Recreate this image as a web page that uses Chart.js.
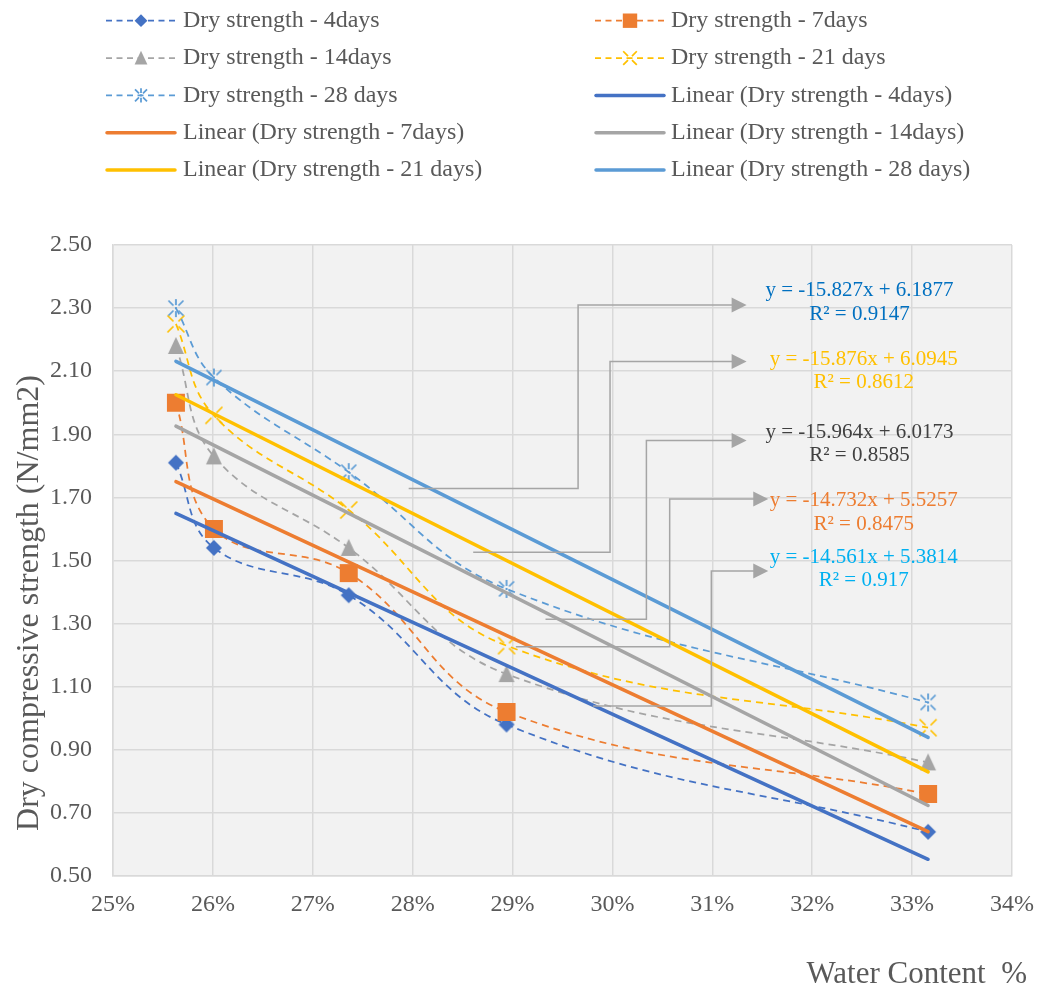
<!DOCTYPE html>
<html>
<head>
<meta charset="utf-8">
<script src="https://cdn.jsdelivr.net/npm/chart.js@4.4.0/dist/chart.umd.min.js"></script>
<style>
html,body{margin:0;padding:0;background:#fff;}
#wrap{width:1038px;height:991px;position:relative;}
</style>
</head>
<body>
<div id="wrap"><canvas id="c" width="1038" height="991"></canvas></div>
<script>
// ---------- data ----------
const waterContent = [0.2563, 0.2601, 0.2736, 0.2894, 0.3316];
const dry4  = [1.81, 1.54, 1.39, 0.98, 0.64];
const dry7  = [2.00, 1.60, 1.46, 1.02, 0.76];
const dry14 = [2.18, 1.83, 1.54, 1.14, 0.86];
const dry21 = [2.25, 1.96, 1.66, 1.23, 0.97];
const dry28 = [2.30, 2.08, 1.78, 1.41, 1.05];
const seriesNames = ['Dry strength - 4days', 'Dry strength - 7days', 'Dry strength - 14days', 'Dry strength - 21 days', 'Dry strength - 28 days'];
const trendSlopes     = [-14.561, -14.732, -15.964, -15.876, -15.827];
const trendIntercepts = [5.3814, 5.5257, 6.0173, 6.0945, 6.1877];
const trendR2         = [0.917, 0.8475, 0.8585, 0.8612, 0.9147];
const xAxisTitle = 'Water Content  %';
const yAxisTitle = 'Dry compressive strength (N/mm2)';

// ---------- styles ----------
const FONT = "'Liberation Serif', 'Times New Roman', serif";
const TEXT = '#595959';
const seriesColors = ['#4472C4', '#ED7D31', '#A5A5A5', '#FFC000', '#5B9BD5'];
const markerTypes = ['diamond', 'square', 'triangle', 'x', 'asterisk'];
const allSeries = [dry4, dry7, dry14, dry21, dry28];

function drawMarker(g, type, x, y, s, color) {
  g.save();
  g.fillStyle = color; g.strokeStyle = color; g.lineWidth = 1.75; g.lineCap = 'butt';
  g.beginPath();
  if (type === 'diamond') {
    const r = 8 * s;
    g.moveTo(x, y - r); g.lineTo(x + r, y); g.lineTo(x, y + r); g.lineTo(x - r, y); g.closePath(); g.fill();
  } else if (type === 'square') {
    const h = 9 * s;
    g.rect(x - h, y - h, 2 * h, 2 * h); g.fill();
  } else if (type === 'triangle') {
    g.moveTo(x, y - 9 * s); g.lineTo(x + 8 * s, y + 8 * s); g.lineTo(x - 8 * s, y + 8 * s); g.closePath(); g.fill();
  } else if (type === 'x') {
    [[1,1],[1,-1],[-1,1],[-1,-1]].forEach(([dx,dy]) => {
      g.moveTo(x + dx * 2.5 * s, y + dy * 2.5 * s); g.lineTo(x + dx * 8.5 * s, y + dy * 8.5 * s);
    });
    g.stroke();
  } else if (type === 'asterisk') {
    [[1,1],[1,-1],[-1,1],[-1,-1]].forEach(([dx,dy]) => {
      g.moveTo(x + dx * 2.5 * s, y + dy * 2.5 * s); g.lineTo(x + dx * 7.5 * s, y + dy * 7.5 * s);
    });
    g.moveTo(x, y - 3 * s); g.lineTo(x, y - 9 * s);
    g.moveTo(x, y + 3 * s); g.lineTo(x, y + 9 * s);
    g.stroke();
    g.fillRect(x - 1, y - 1, 2, 2);
  }
  g.restore();
}
function markerCanvas(type, color) {
  const c = document.createElement('canvas');
  c.width = 24; c.height = 24;
  drawMarker(c.getContext('2d'), type, 12, 12, 1, color);
  return c;
}

// ---------- datasets ----------
const datasets = [];
allSeries.forEach((vals, i) => {
  datasets.push({
    label: seriesNames[i],
    data: vals.map((v, k) => ({ x: waterContent[k], y: v })),
    showLine: true,
    tension: 0.4,
    borderColor: seriesColors[i],
    borderWidth: 1.75,
    borderDash: [7, 5],
    pointStyle: markerCanvas(markerTypes[i], seriesColors[i]),
    pointRadius: 10,
    pointHoverRadius: 10,
    order: 10 - i,
    _kind: 'series', _idx: i
  });
});
const xFirst = waterContent[0], xLast = waterContent[waterContent.length - 1];
trendSlopes.forEach((m, i) => {
  datasets.push({
    label: 'Linear (' + seriesNames[i] + ')',
    data: [{ x: xFirst, y: m * xFirst + trendIntercepts[i] }, { x: xLast, y: m * xLast + trendIntercepts[i] }],
    showLine: true,
    borderColor: seriesColors[i],
    borderWidth: 3.5,
    borderCapStyle: 'round',
    pointRadius: 0,
    order: 5 - i,
    _kind: 'trend', _idx: i
  });
});

// ---------- annotation layout (callouts with equations) ----------
const callouts = [
  { s: 4, sx: 0.2796,  sy: 1.728, ex: 0.29656, ey: 2.310, tx: 0.31343, lx: 0.32473, ly: 2.355, color: '#0070C0' },
  { s: 3, sx: 0.28606, sy: 1.526, ex: 0.29976, ey: 2.131, tx: 0.31343, lx: 0.32516, ly: 2.138, color: '#FFC000' },
  { s: 2, sx: 0.2933,  sy: 1.314, ex: 0.3034,  ey: 1.880, tx: 0.31343, lx: 0.32473, ly: 1.906, color: '#404040' },
  { s: 1, sx: 0.29033, sy: 1.227, ex: 0.30573, ey: 1.695, tx: 0.31560, lx: 0.32516, ly: 1.690, color: '#ED7D31' },
  { s: 0, sx: 0.29806, sy: 1.039, ex: 0.3099,  ey: 1.467, tx: 0.31560, lx: 0.32516, ly: 1.510, color: '#00B0F0' }
];

const bgPlugin = {
  id: 'bg',
  beforeDraw(chart) {
    const { ctx, chartArea: a } = chart;
    ctx.save();
    ctx.fillStyle = '#fff'; ctx.fillRect(0, 0, chart.width, chart.height);
    ctx.fillStyle = '#F2F2F2'; ctx.fillRect(a.left, a.top, a.right - a.left, a.bottom - a.top);
    ctx.restore();
  }
};

const decoPlugin = {
  id: 'deco',
  afterDraw(chart) {
    const { ctx } = chart;
    const xs = chart.scales.x, ys = chart.scales.y;
    ctx.save();
    // callouts
    callouts.forEach(c => {
      const x0 = xs.getPixelForValue(c.sx), y0 = ys.getPixelForValue(c.sy);
      const x1 = xs.getPixelForValue(c.ex), y1 = ys.getPixelForValue(c.ey);
      const x2 = xs.getPixelForValue(c.tx);
      ctx.strokeStyle = '#A5A5A5'; ctx.fillStyle = '#A5A5A5'; ctx.lineWidth = 1.5; ctx.setLineDash([]);
      ctx.beginPath();
      ctx.moveTo(x0, y0); ctx.lineTo(x1, y0); ctx.lineTo(x1, y1); ctx.lineTo(x2 - 12, y1);
      ctx.stroke();
      ctx.beginPath();
      ctx.moveTo(x2, y1); ctx.lineTo(x2 - 15, y1 - 7.5); ctx.lineTo(x2 - 15, y1 + 7.5); ctx.closePath(); ctx.fill();
      const lx = xs.getPixelForValue(c.lx), ly = ys.getPixelForValue(c.ly);
      ctx.fillStyle = c.color;
      ctx.font = '21px ' + FONT;
      ctx.textAlign = 'center'; ctx.textBaseline = 'middle';
      const m = trendSlopes[c.s], b = trendIntercepts[c.s];
      ctx.fillText('y = ' + m + 'x + ' + b, lx, ly);
      ctx.fillText('R\u00B2 = ' + trendR2[c.s], lx, ly + 23.5);
    });
    // axis titles
    ctx.fillStyle = TEXT;
    ctx.font = '32px ' + FONT;
    ctx.textAlign = 'center'; ctx.textBaseline = 'middle';
    ctx.save();
    ctx.translate(30, 603); ctx.rotate(-Math.PI / 2);
    ctx.fillText(yAxisTitle, 0, 0);
    ctx.restore();
    ctx.font = '31px ' + FONT;
    ctx.textAlign = 'right';
    ctx.fillText(xAxisTitle, 1027, 975);
    // legend (two columns)
    const colSample = [106, 595], colText = [183, 671];
    ctx.font = '24px ' + FONT;
    ctx.textAlign = 'left'; ctx.textBaseline = 'middle';
    chart.data.datasets.forEach((ds, k) => {
      const col = k % 2, row = Math.floor(k / 2);
      const y = 20.7 + row * 37.35;
      const x0 = colSample[col], x1 = x0 + 70;
      ctx.strokeStyle = ds.borderColor;
      if (ds._kind === 'series') {
        ctx.lineWidth = 1.75; ctx.setLineDash([6, 4.5]); ctx.lineCap = 'butt';
        ctx.beginPath(); ctx.moveTo(x0, y); ctx.lineTo(x1, y); ctx.stroke();
        ctx.setLineDash([]);
        drawMarker(ctx, markerTypes[ds._idx], (x0 + x1) / 2, y, 0.8, ds.borderColor);
      } else {
        ctx.lineWidth = 3.5; ctx.setLineDash([]); ctx.lineCap = 'round';
        ctx.beginPath(); ctx.moveTo(x0 + 1, y); ctx.lineTo(x1 - 1, y); ctx.stroke();
      }
      ctx.fillStyle = TEXT;
      ctx.fillText(ds.label, colText[col], y);
    });
    ctx.restore();
  }
};

new Chart(document.getElementById('c'), {
  type: 'scatter',
  data: { datasets },
  options: {
    responsive: false,
    animation: false,
    devicePixelRatio: 1,
    layout: { padding: { left: 0, right: 26, top: 245, bottom: 0 } },
    plugins: { legend: { display: false }, tooltip: { enabled: false } },
    scales: {
      x: {
        type: 'linear', min: 0.25, max: 0.34,
        afterFit: s => { s.height = 115; s.paddingRight = 0; s.paddingLeft = 0; },
        grid: { color: '#D9D9D9', lineWidth: 1.5, drawTicks: false },
        border: { color: '#D9D9D9', width: 1.5 },
        ticks: {
          stepSize: 0.01, padding: 14, color: TEXT,
          font: { family: FONT, size: 24 },
          callback: v => Math.round(v * 100) + '%'
        }
      },
      y: {
        type: 'linear', min: 0.5, max: 2.5,
        afterFit: s => { s.width = 113; s.paddingTop = 0; s.paddingBottom = 0; },
        grid: { color: '#D9D9D9', lineWidth: 1.5, drawTicks: false },
        border: { color: '#D9D9D9', width: 1.5 },
        ticks: {
          stepSize: 0.2, padding: 21, color: TEXT,
          font: { family: FONT, size: 24 },
          callback: v => Number(v).toFixed(2)
        }
      }
    }
  },
  plugins: [bgPlugin, decoPlugin]
});
</script>
</body>
</html>
